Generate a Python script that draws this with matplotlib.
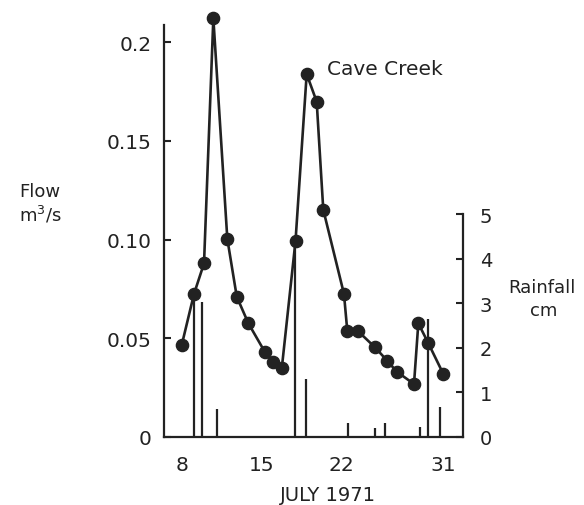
import matplotlib
matplotlib.use("Agg")
import matplotlib.pyplot as plt

# Stream flow at Cave Creek, July 1971 (day of month, m^3/s)
flow_day = [8.00, 9.08, 9.96, 10.78, 12.01, 12.84, 13.86, 15.33, 16.00, 16.80,
            18.01, 18.99, 19.87, 20.45, 22.27, 22.56, 23.53, 25.00, 26.08, 26.91,
            28.43, 28.81, 29.69, 31.01]
flow = [0.0465, 0.0724, 0.0879, 0.2122, 0.1003, 0.0710, 0.0575, 0.0428, 0.0380, 0.0347,
        0.0994, 0.1839, 0.1699, 0.1151, 0.0724, 0.0538, 0.0534, 0.0453, 0.0385, 0.0330,
        0.0267, 0.0575, 0.0474, 0.0318]

# Rainfall events (day of month, cm)
rain_day = [9.11, 9.81, 11.08, 17.95, 18.93, 22.65, 25.03, 25.88, 28.96, 29.64, 30.72]
rain = [3.21, 3.03, 0.62, 4.40, 1.30, 0.30, 0.19, 0.30, 0.22, 2.64, 0.67]

day_ticks = [8, 15, 22, 31]
day_labels = ["8", "15", "22", "31"]
flow_ticks = [0, 0.05, 0.10, 0.15, 0.2]
flow_labels = ["0", "0.05", "0.10", "0.15", "0.2"]
rain_ticks = [0, 1, 2, 3, 4, 5]
rain_labels = ["0", "1", "2", "3", "4", "5"]

ink = "#222222"
plt.rcParams["font.family"] = ["DejaVu Sans"]

W, H = 584, 506
fig = plt.figure(figsize=(W / 100, H / 100), dpi=100)
x0, x1 = 164, 463          # axes left/right (px)
y_bot, y_top = 437.7, 8    # axes bottom/top (px from top)
ax = fig.add_axes([x0 / W, 1 - y_bot / H, (x1 - x0) / W, (y_bot - y_top) / H])
ax2 = ax.twinx()
ax.set_zorder(2)
ax.patch.set_visible(False)

# Rainfall as thin vertical bars on the right-hand axis
ax2.vlines(rain_day, 0, rain, colors=ink, linewidth=1.6)
ax2.set_ylim(0, (y_bot - y_top) / 44.5)

# Flow hydrograph
ax.plot(flow_day, flow, color=ink, linewidth=1.9, marker="o", markersize=8.8,
        markerfacecolor=ink, markeredgecolor=ink, clip_on=False)
ax.set_xlim(6.44, 32.74)
ax.set_ylim(0, (y_bot - y_top) / 1972)

# Spines
for s in ("top", "right"):
    ax.spines[s].set_visible(False)
for s in ("top", "left", "bottom"):
    ax2.spines[s].set_visible(False)
ax.spines["left"].set_bounds(0, 0.209)
ax2.spines["right"].set_bounds(0, 5.0)
for sp in (ax.spines["left"], ax.spines["bottom"], ax2.spines["right"]):
    sp.set_linewidth(1.6)
    sp.set_color(ink)

# Ticks
ax.set_xticks(day_ticks)
ax.set_xticklabels(day_labels)
ax.set_yticks(flow_ticks)
ax.set_yticklabels(flow_labels)
ax2.set_yticks(rain_ticks)
ax2.set_yticklabels(rain_labels)
ax.tick_params(axis="x", length=0, pad=13, labelsize=14.5, labelcolor=ink)
ax.tick_params(axis="y", direction="in", length=5, width=1.5, color=ink,
               pad=9, labelsize=14.5, labelcolor=ink)
ax2.tick_params(axis="y", direction="in", length=5, width=1.5, color=ink,
                pad=12, labelsize=14, labelcolor=ink)

# Labels
fig.text(40 / W, 1 - 192 / H, "Flow", ha="center", va="center", fontsize=13, color=ink)
fig.text(40 / W, 1 - 215 / H, "m$^{3}$/s", ha="center", va="center", fontsize=13, color=ink)
fig.text(542 / W, 1 - 288 / H, "Rainfall", ha="center", va="center", fontsize=13, color=ink)
fig.text(544 / W, 1 - 311 / H, "cm", ha="center", va="center", fontsize=13, color=ink)
fig.text(328 / W, 1 - 496 / H, "JULY 1971", ha="center", va="center", fontsize=14, color=ink)
ax.text(20.75, 0.1865, "Cave Creek", ha="left", va="center", fontsize=14.5, color=ink)

fig.savefig("out.png", dpi=100)
